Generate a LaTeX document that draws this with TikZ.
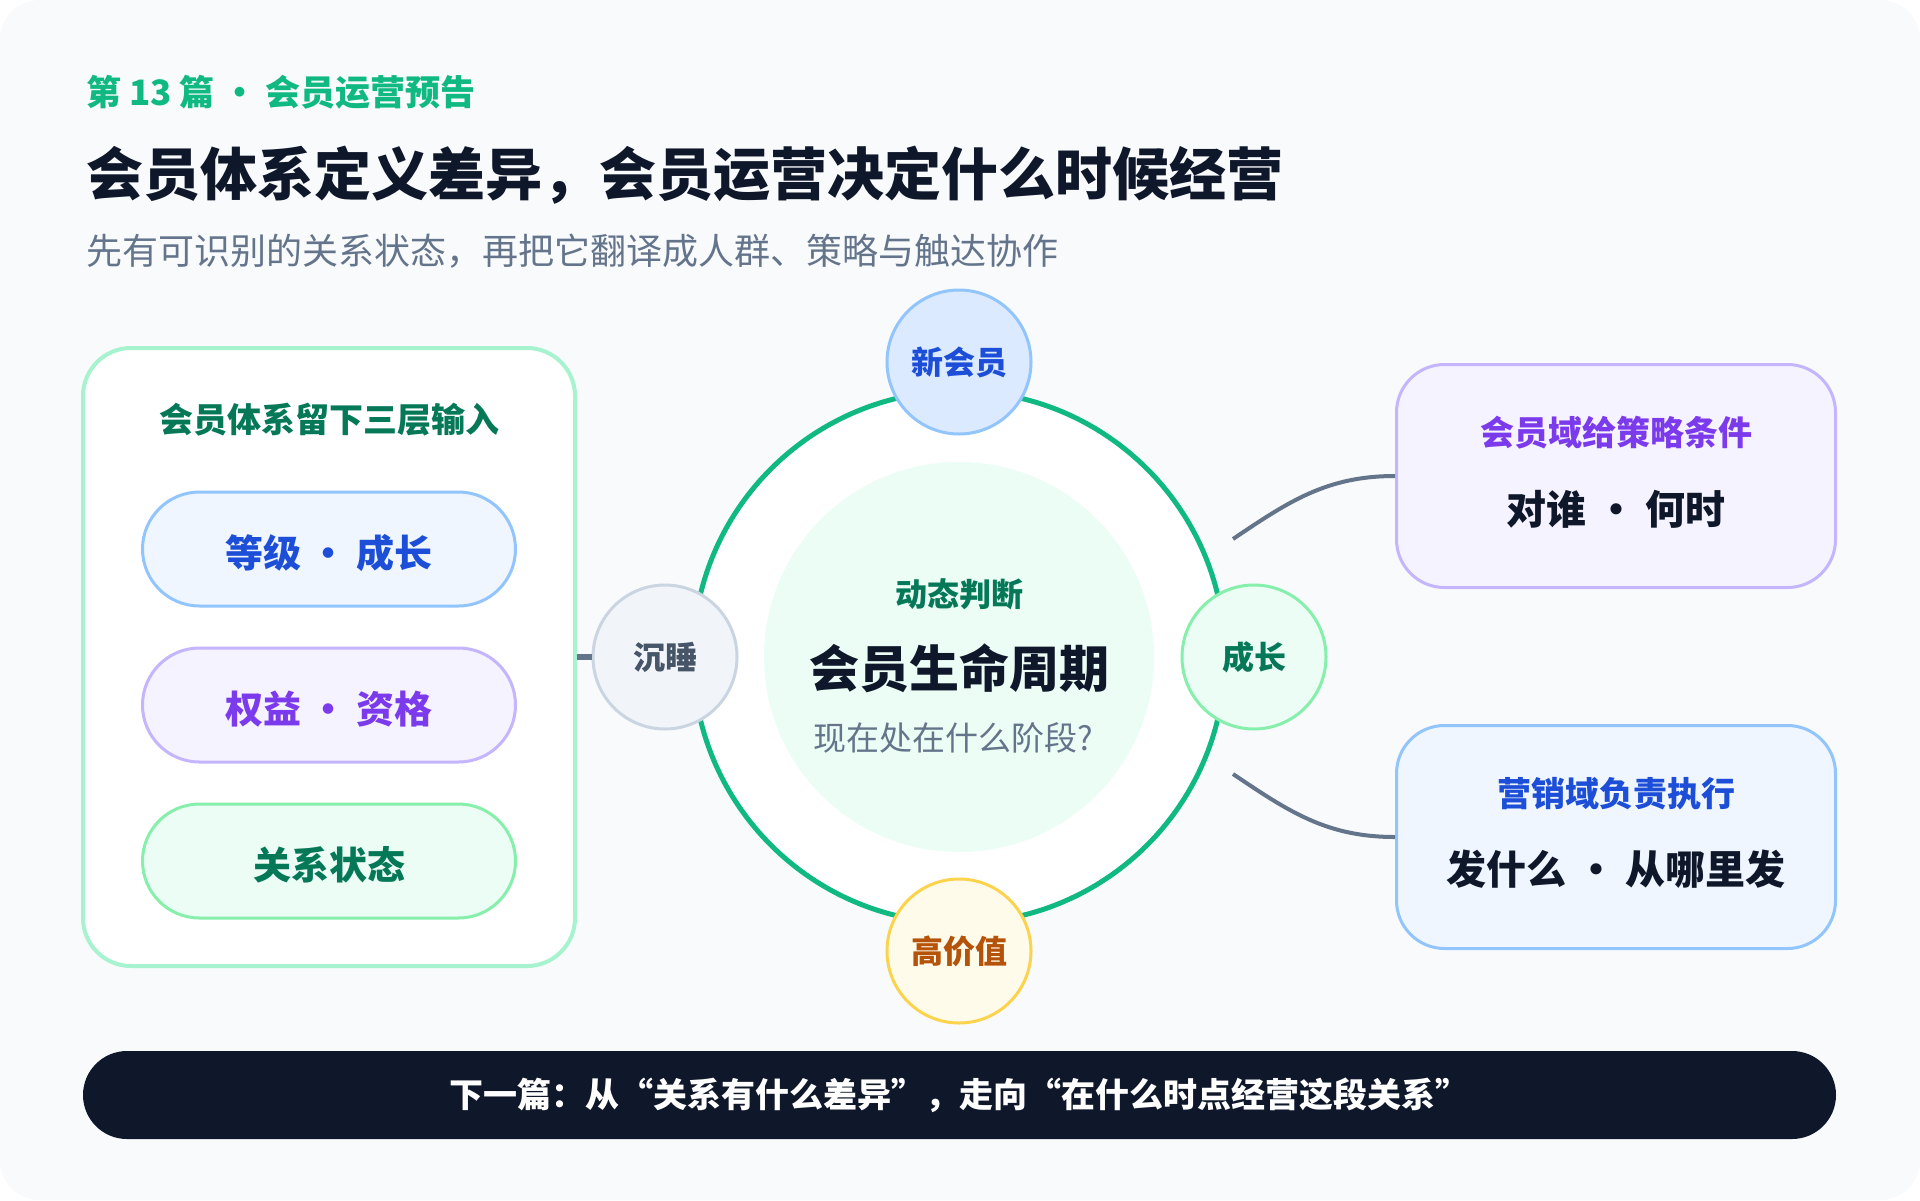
\documentclass[tikz,border=0pt]{standalone}
\usepackage{fontspec}
\setmainfont{Noto Sans CJK SC}
\usetikzlibrary{positioning}

\definecolor{pagebg}{HTML}{F8FAFC}
\definecolor{ink}{HTML}{0F172A}
\definecolor{slate}{HTML}{64748B}
\definecolor{accent}{HTML}{10B981}
\definecolor{deepgreen}{HTML}{047857}
\definecolor{mint}{HTML}{A7F3D0}
\definecolor{mintfill}{HTML}{ECFDF5}
\definecolor{greenline}{HTML}{86EFAC}
\definecolor{bluefill}{HTML}{EFF6FF}
\definecolor{bluetint}{HTML}{DBEAFE}
\definecolor{blueline}{HTML}{93C5FD}
\definecolor{bluetext}{HTML}{1D4ED8}
\definecolor{violetfill}{HTML}{F5F3FF}
\definecolor{violetline}{HTML}{C4B5FD}
\definecolor{violettext}{HTML}{7C3AED}
\definecolor{greyfill}{HTML}{F1F5F9}
\definecolor{greyline}{HTML}{CBD5E1}
\definecolor{greytext}{HTML}{475569}
\definecolor{amberfill}{HTML}{FFFBEB}
\definecolor{amberline}{HTML}{FCD34D}
\definecolor{ambertext}{HTML}{B45309}

\newcommand{\fsz}[1]{\fontsize{#1}{#1}\selectfont}

\begin{document}
\begin{tikzpicture}[x=1pt, y=1pt, inner sep=0pt,
		pill/.style={draw, rounded corners=57pt, line width=3pt, minimum width=373pt, minimum height=114pt, text height=41pt, text depth=3.8pt, font=\fsz{38}\bfseries},
		card/.style={draw, rounded corners=48pt, line width=3pt, minimum width=439pt, minimum height=223pt},
		stage/.style={circle, draw, line width=3pt, minimum size=144pt, font=\fsz{32}\bfseries},
		link/.style={draw=slate, line width=4pt}]

		%% Page
		\useasboundingbox (0,0) rectangle (1920,-1200);
		\fill[white] (0,0) rectangle (1920,-1200);
		\fill[pagebg, rounded corners=40pt] (0,0) rectangle (1920,-1200);

		% Header
		\begin{scope}
			\node (kicker) at (86,-92) [anchor=west, text=accent, font=\fsz{35}\bfseries] {第 13 篇 · 会员运营预告};
			\node (headline) at (86,-175) [anchor=west, text=ink, font=\fsz{57}\bfseries] {会员体系定义差异，会员运营决定什么时候经营};
			\node (subline) at (86,-251) [anchor=west, text=slate, font=\fsz{36}] {先有可识别的关系状态，再把它翻译成人群、策略与触达协作};
		\end{scope}

		% Inputs
		\begin{scope}
			\node (panel) at (329,-657) [draw=mint, fill=white, line width=4pt, rounded corners=48pt, minimum width=492pt, minimum height=618pt] {};
			\node (panel_title) at (329,-420) [text=deepgreen, font=\fsz{34}\bfseries] {会员体系留下三层输入};
			\node (pill_level) at (329,-549) [pill, draw=blueline, fill=bluefill, text=bluetext] {等级 · 成长};
			\node (pill_rights) [pill, draw=violetline, fill=violetfill, text=violettext, below = 39pt of pill_level] {权益 · 资格};
			\node (pill_state) [pill, draw=greenline, fill=mintfill, text=deepgreen, below = 39pt of pill_rights] {关系状态};
		\end{scope}

		% Lifecycle
		\begin{scope}
			\node (hub) at (959,-657) [circle, draw=accent, fill=white, line width=5pt, minimum size=532pt] {};
			\node (core) at (hub) [circle, fill=mintfill, minimum size=390pt] {};
			\node (core_tag) at (959,-594) [text=deepgreen, font=\fsz{32}\bfseries] {动态判断};
			\node (core_title) at (959,-668) [text=ink, font=\fsz{50}\bfseries] {会员生命周期};
			\node (core_question) at (953,-738) [text=slate, font=\fsz{33}] {现在处在什么阶段?};

			\node (stage_new) at (959,-362) [stage, draw=blueline, fill=bluetint, text=bluetext] {新会员};
			\node (stage_grow) at (1254,-657) [stage, draw=greenline, fill=mintfill, text=deepgreen] {成长};
			\node (stage_value) at (959,-951) [stage, draw=amberline, fill=amberfill, text=ambertext] {高价值};
			\node (stage_sleep) at (665,-657) [stage, draw=greyline, fill=greyfill, text=greytext] {沉睡};
		\end{scope}

		% Domains
		\begin{scope}
			\node (card_member) at (1616,-476) [card, draw=violetline, fill=violetfill] {};
			\node (card_member_title) at (1616,-433) [text=violettext, font=\fsz{34}\bfseries] {会员域给策略条件};
			\node (card_member_text) at (1616,-509) [text=ink, font=\fsz{40}\bfseries] {对谁 · 何时};

			\node (card_market) at (1616,-837) [card, draw=blueline, fill=bluefill] {};
			\node (card_market_title) at (1616,-794) [text=bluetext, font=\fsz{34}\bfseries] {营销域负责执行};
			\node (card_market_text) at (1616,-869) [text=ink, font=\fsz{40}\bfseries] {发什么 · 从哪里发};
		\end{scope}

		% Footer
		\node (next_bar) at (959.5,-1095) [fill=ink, rounded corners=44pt, minimum width=1753pt, minimum height=88pt, text=white, font=\fsz{34}\bfseries] {下一篇：从“关系有什么差异”，走向“在什么时点经营这段关系”};

		%% Edges
		\coordinate (tap_up) at (1233,-539);
		\coordinate (tap_down) at (1233,-774);
		\draw[link, line width=6pt] (panel.east) -- (stage_sleep.west);
		\path (tap_up) edge[link, out=34, in=180] (card_member.west);
		\path (tap_down) edge[link, out=-34, in=180] (card_market.west);
	\end{tikzpicture}
\end{document}
